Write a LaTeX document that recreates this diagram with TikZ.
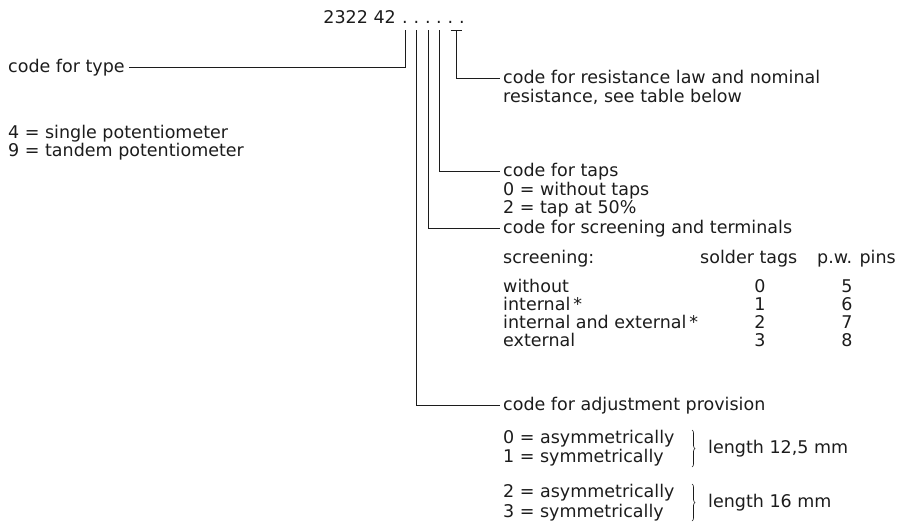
\documentclass[tikz,border=0pt]{standalone}
\usepackage{fontspec}
\setmainfont{DejaVu Sans}
\usetikzlibrary{calc, decorations.pathreplacing}
\definecolor{pink}{HTML}{1C1C1C}
\tikzset{
  txt/.style={inner sep=0pt, anchor=base west, text=pink,
              font=\fontsize{17.5}{18.5}\selectfont},
  head/.style={txt, text height=12.5pt, text depth=3.5pt},
  lead/.style={draw=pink, line width=0.65pt},
}
\begin{document}
\begin{tikzpicture}[
    x=1pt, y=-1pt,
    num/.style={txt, anchor=base},
    brc/.style={lead, decorate, decoration={brace, amplitude=3pt}}
  ]
  \useasboundingbox (0,0) rectangle (909,531);

  % Type number
  \node[txt, anchor=base east] (code) at (396, 23) {2322 42};
  \foreach \x [count=\i] in {405, 416.5, 428, 439, 450.5, 462}
    \node[num] (d\i) at (\x, 23) {.};

  % Type
  \node[head] (type) at (8, 72) {code for type};
  \node[txt] (type4) at (8, 138) {4 = single potentiometer};
  \node[txt] (type9) at (8, 156) {9 = tandem potentiometer};

  % Resistance and taps
  \node[head] (res) at (503, 83) {code for resistance law and nominal};
  \node[txt] (res2) at (503, 102) {resistance, see table below};
  \node[head] (taps) at (503, 176) {code for taps};
  \node[txt] (taps0) at (503, 195) {0 = without taps};
  \node[txt] (taps2) at (503, 213) {2 = tap at 50\%};

  % Screening and terminals
  \node[head] (scr) at (503, 233) {code for screening and terminals};
  \node[txt] (scrh) at (503, 263) {screening:};
  \node[txt] (sold) at (700, 263) {solder tags};
  \node[txt] (pins) at (817, 263) {p.w. pins};
  \foreach \lbl/\a/\b [count=\i] in {without/0/5, internal\,*/1/6,
      internal and external\,*/2/7, external/3/8} {
    \node[txt] (row\i) at (503, 274+18*\i) {\lbl};
    \node[num] (sol\i) at (760, 274+18*\i) {\a};
    \node[num] (pin\i) at (847, 274+18*\i) {\b};
  }

  % Adjustment provision
  \node[head] (adj) at (503, 410) {code for adjustment provision};
  \node[txt] (adj0) at (503, 443) {0 = asymmetrically};
  \node[txt] (adj1) at (503, 462) {1 = symmetrically};
  \node[txt] (adj2) at (503, 497) {2 = asymmetrically};
  \node[txt] (adj3) at (503, 517) {3 = symmetrically};
  \draw[brc] (692, 430) -- (692, 467);
  \draw[brc] (692, 484) -- (692, 521);
  \node[head, anchor=west] (len1) at (708, 449) {length 12,5 mm};
  \node[head, anchor=west] (len2) at (708, 503) {length 16 mm};

  % Leaders
  \draw[lead] (d1.base) ++(0,7) |- ([xshift=4pt]type.east);
  \draw[lead] (d2.base) ++(0,7) |- ([xshift=-3pt]adj.west);
  \draw[lead] (d3.base) ++(0,7) |- ([xshift=-3pt]scr.west);
  \draw[lead] (d4.base) ++(0,7) |- ([xshift=-3pt]taps.west);
  \draw[lead] ($(d5.base)+(0,7)$) -- ($(d6.base)+(0,7)$);
  \draw[lead] ($(d5.base)!0.5!(d6.base)+(0,7)$) |- ([xshift=-3pt]res.west);

\end{tikzpicture}
\end{document}
